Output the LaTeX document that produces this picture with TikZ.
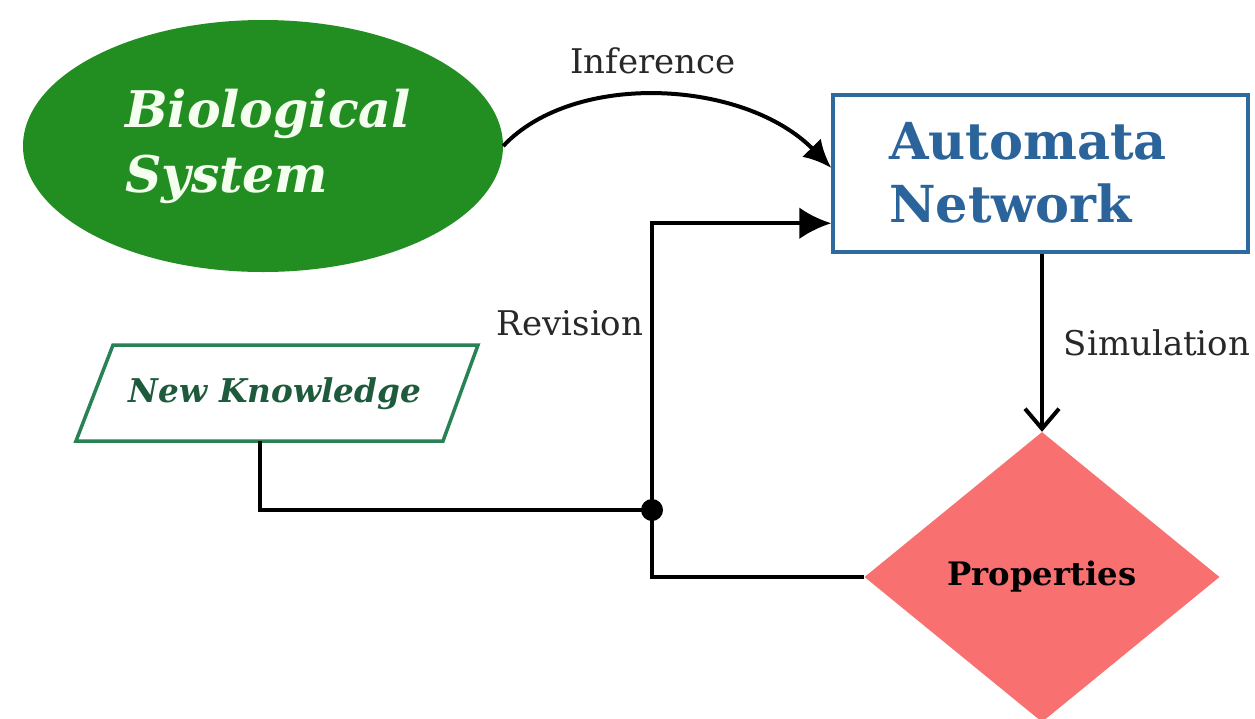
\documentclass[tikz,border=0pt]{standalone}
\usepackage{fontspec}
\setmainfont{DejaVu Serif}
\usetikzlibrary{shapes.geometric,arrows.meta,calc}

\definecolor{biogreen}{RGB}{34,142,34}
\definecolor{biotext}{RGB}{245,255,240}
\definecolor{netblue}{RGB}{46,106,158}
\definecolor{nettext}{RGB}{42,100,155}
\definecolor{kgreen}{RGB}{40,130,85}
\definecolor{ktext}{RGB}{30,90,60}
\definecolor{propred}{RGB}{248,112,112}
\definecolor{labelgray}{RGB}{40,40,40}

\tikzset{
  wire/.style={line width=4pt, black},
  edgelabel/.style={font=\fontsize{34}{40}\selectfont, text=labelgray, inner sep=0pt},
}

\begin{document}
\begin{tikzpicture}[x=1pt,y=-1pt]
  \useasboundingbox (0,0) rectangle (1255,718);
  \fill[white] (0,0) rectangle (1255,718);
  \clip (0,0) rectangle (1255,718);

  % Biological system
  \node[ellipse, fill=biogreen, minimum width=480pt, minimum height=252pt, inner sep=0pt]
    (bio) at (263,146) {};
  \node[text=biotext, align=left, inner sep=0pt,
        font=\fontsize{50.5}{65}\selectfont\bfseries\itshape]
    (biotxt) at (268,146) {Biological\\System};

  % Automata network
  \node[draw=netblue, line width=3.5pt, minimum width=415pt, minimum height=157pt, inner sep=0pt]
    (an) at (1040.5,173.5) {};
  \node[text=nettext, align=left, inner sep=0pt, font=\fontsize{51}{63}\selectfont\bfseries]
    (antext) at (1028,173) {Automata\\Network};

  % New knowledge (parallelogram)
  \draw[kgreen, line width=3.5pt] (113,345) -- (478,345) -- (443,441) -- (76,441) -- cycle;
  \node[text=ktext, inner sep=0pt, font=\fontsize{32.7}{38}\selectfont\bfseries\itshape]
    (nk) at (275,394) {New Knowledge};
  \coordinate (nkb) at (260,441);

  % Properties
  \node[diamond, fill=propred, minimum width=355pt, minimum height=290pt, inner sep=0pt,
        font=\fontsize{32.3}{38}\selectfont\bfseries, text=black]
    (pr) at (1042,577) {Properties};

  % connectors
  \coordinate (inA) at ($(an.north west)!0.465!(an.south west)$);
  \coordinate (rvA) at ($(an.north west)!0.81!(an.south west)$);
  \coordinate (j) at (652,510);

  \draw[wire, -{Latex[length=28pt,width=26pt]}]
    (bio.east) .. controls (575,70) and (745,80) .. (inA);
  \draw[wire, -{Latex[length=32pt,width=32pt]}]
    (pr.west) -| (j) |- (rvA);
  \draw[wire] (nkb) |- (j);
  \fill (j) circle (11pt);
  \draw[wire, -{Straight Barb[length=20pt,width=34pt,line width=4pt]}]
    (an.south -| pr.north) -- (pr.north);

  % labels
  \node[edgelabel] (linf) at (653,61) {Inference};
  \node[edgelabel] (lrev) at (570,323) {Revision};
  \node[edgelabel] (lsim) at (1157,343) {Simulation};
\end{tikzpicture}
\end{document}
